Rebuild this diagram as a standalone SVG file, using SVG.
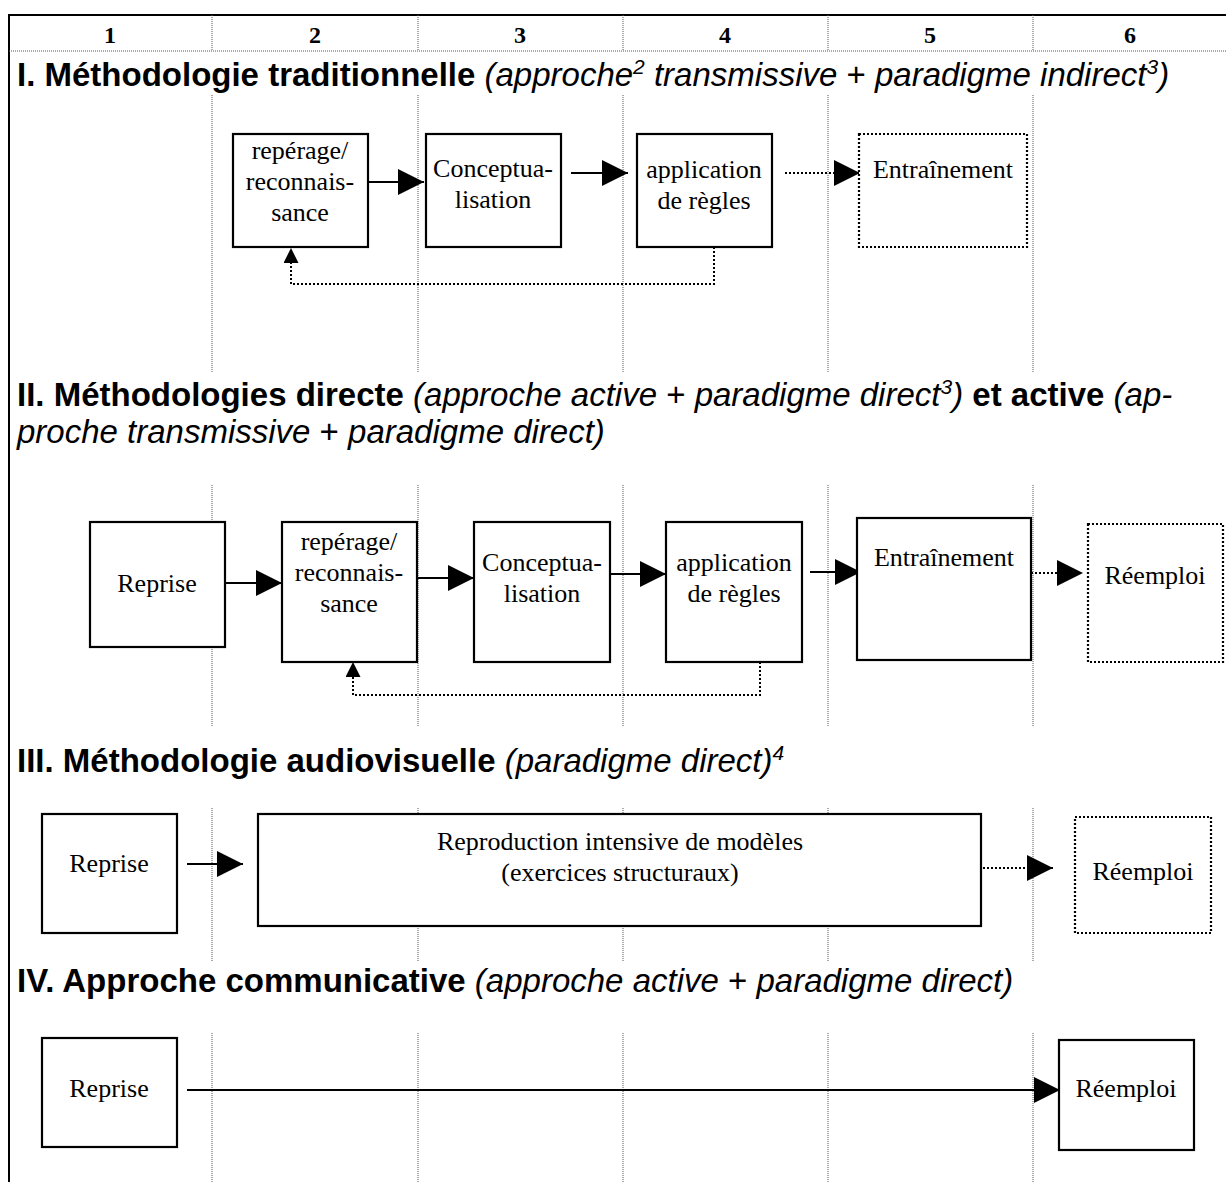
<svg xmlns="http://www.w3.org/2000/svg" width="1226" height="1182" viewBox="0 0 1226 1182">
<style>
.frame{fill:none;stroke:#000;stroke-width:2}
.div{stroke:#555;stroke-width:1;stroke-dasharray:1 1;fill:none}
.box{fill:#fff;stroke:#000;stroke-width:2.2}
.dbox{fill:#fff;stroke:#000;stroke-width:2.2;stroke-dasharray:2 2}
.lbl{font-family:"Liberation Serif","Times New Roman",serif;font-size:26px;fill:#000;text-anchor:middle}
.num{font-family:"Liberation Serif","Times New Roman",serif;font-size:24px;font-weight:bold;text-anchor:middle}
.title{font-family:"Liberation Sans",Arial,sans-serif;font-size:33px;fill:#000}
.b{font-weight:bold}
.i{font-style:italic}
.sup{font-size:21px}
.arrow{stroke:#000;stroke-width:2.2;fill:none;marker-end:url(#ah)}
.darrow{stroke:#000;stroke-width:2.2;fill:none;stroke-dasharray:2 2;marker-end:url(#ah)}
.fb{stroke:#000;stroke-width:2;fill:none;stroke-dasharray:2 2;marker-end:url(#ahs)}
</style>
<defs>
<marker id="ah" markerUnits="userSpaceOnUse" markerWidth="26" markerHeight="26" refX="26" refY="13" orient="auto"><path d="M0,0L26,13L0,26z" fill="#000"/></marker>
<marker id="ahs" markerUnits="userSpaceOnUse" markerWidth="16" markerHeight="16" refX="15" refY="7.5" orient="auto"><path d="M0,0L15,7.5L0,15z" fill="#000"/></marker>
</defs>

<g id="frame">
<path class="frame" d="M9,1182V15H1226"/>
<path class="div" d="M9,51H1226"/>
</g>

<g id="grid">
<path class="div" d="M212,15V51M418,15V51M623,15V51M828,15V51M1033,15V51"/>
<path class="div" d="M212,95V372M418,95V372M623,95V372M828,95V372M1033,95V372"/>
<path class="div" d="M212,485V727M418,485V727M623,485V727M828,485V727M1033,485V727"/>
<path class="div" d="M212,808V962M418,808V962M623,808V962M828,808V962M1033,808V962"/>
<path class="div" d="M212,1033V1182M418,1033V1182M623,1033V1182M828,1033V1182M1033,1033V1182"/>
</g>

<g id="header">
<text class="num" x="110" y="43">1</text>
<text class="num" x="315" y="43">2</text>
<text class="num" x="520" y="43">3</text>
<text class="num" x="725" y="43">4</text>
<text class="num" x="930" y="43">5</text>
<text class="num" x="1130" y="43">6</text>
</g>

<g id="titles">
<text class="title" x="17" y="86"><tspan class="b">I. Méthodologie traditionnelle</tspan><tspan class="i"> (approche</tspan><tspan class="i sup" dy="-12">2</tspan><tspan class="i" dy="12"> transmissive </tspan><tspan>+</tspan><tspan class="i"> paradigme indirect</tspan><tspan class="i sup" dy="-12">3</tspan><tspan class="i" dy="12">)</tspan></text>
<text class="title" x="17" y="406"><tspan class="b">II. Méthodologies directe</tspan><tspan class="i"> (approche active </tspan><tspan>+</tspan><tspan class="i"> paradigme direct</tspan><tspan class="i sup" dy="-12">3</tspan><tspan class="i" dy="12">)</tspan><tspan class="b"> et active </tspan><tspan class="i">(ap-</tspan></text>
<text class="title" x="17" y="443"><tspan class="i">proche transmissive </tspan><tspan>+</tspan><tspan class="i"> paradigme direct)</tspan></text>
<text class="title" x="17" y="772"><tspan class="b">III. Méthodologie audiovisuelle</tspan><tspan class="i"> (paradigme direct)</tspan><tspan class="i sup" dy="-12">4</tspan></text>
<text class="title" x="17" y="992"><tspan class="b">IV. Approche communicative</tspan><tspan class="i"> (approche active </tspan><tspan>+</tspan><tspan class="i"> paradigme direct)</tspan></text>
</g>

<g id="connectors">
<path class="arrow" d="M368,182H424"/>
<path class="arrow" d="M571,173H628"/>
<path class="darrow" d="M785,173H860"/>
<path class="fb" d="M714,247V284H291V248"/>

<path class="arrow" d="M225,583H282"/>
<path class="arrow" d="M417,578H474"/>
<path class="arrow" d="M610,574H666"/>
<path class="arrow" d="M810,572H861"/>
<path class="darrow" d="M1031,573H1083"/>
<path class="fb" d="M760,662V695H353V662"/>

<path class="arrow" d="M187,864H243"/>
<path class="darrow" d="M975,868H1053"/>

<path class="arrow" d="M187,1090H1060"/>
</g>

<g id="n-I-reperage"><rect class="box" x="233" y="134" width="135" height="113"/><text class="lbl" x="300" y="159">repérage/</text><text class="lbl" x="300" y="190">reconnais-</text><text class="lbl" x="300" y="221">sance</text></g>
<g id="n-I-concept"><rect class="box" x="426" y="134" width="135" height="113"/><text class="lbl" x="493" y="177">Conceptua-</text><text class="lbl" x="493" y="208">lisation</text></g>
<g id="n-I-application"><rect class="box" x="637" y="134" width="135" height="113"/><text class="lbl" x="704" y="178">application</text><text class="lbl" x="704" y="209">de règles</text></g>
<g id="n-I-entrainement"><rect class="dbox" x="859" y="134" width="168" height="113"/><text class="lbl" x="943" y="178">Entraînement</text></g>

<g id="n-II-reprise"><rect class="box" x="90" y="522" width="135" height="125"/><text class="lbl" x="157" y="592">Reprise</text></g>
<g id="n-II-reperage"><rect class="box" x="282" y="522" width="135" height="140"/><text class="lbl" x="349" y="550">repérage/</text><text class="lbl" x="349" y="581">reconnais-</text><text class="lbl" x="349" y="612">sance</text></g>
<g id="n-II-concept"><rect class="box" x="474" y="522" width="136" height="140"/><text class="lbl" x="542" y="571">Conceptua-</text><text class="lbl" x="542" y="602">lisation</text></g>
<g id="n-II-application"><rect class="box" x="666" y="522" width="136" height="140"/><text class="lbl" x="734" y="571">application</text><text class="lbl" x="734" y="602">de règles</text></g>
<g id="n-II-entrainement"><rect class="box" x="857" y="518" width="174" height="142"/><text class="lbl" x="944" y="566">Entraînement</text></g>
<g id="n-II-reemploi"><rect class="dbox" x="1088" y="524" width="135" height="138"/><text class="lbl" x="1155" y="584">Réemploi</text></g>

<g id="n-III-reprise"><rect class="box" x="42" y="814" width="135" height="119"/><text class="lbl" x="109" y="872">Reprise</text></g>
<g id="n-III-reproduction"><rect class="box" x="258" y="814" width="723" height="112"/><text class="lbl" x="620" y="850">Reproduction intensive de modèles</text><text class="lbl" x="620" y="881">(exercices structuraux)</text></g>
<g id="n-III-reemploi"><rect class="dbox" x="1075" y="817" width="136" height="116"/><text class="lbl" x="1143" y="880">Réemploi</text></g>

<g id="n-IV-reprise"><rect class="box" x="42" y="1038" width="135" height="109"/><text class="lbl" x="109" y="1097">Reprise</text></g>
<g id="n-IV-reemploi"><rect class="box" x="1059" y="1040" width="135" height="110"/><text class="lbl" x="1126" y="1097">Réemploi</text></g>
</svg>
